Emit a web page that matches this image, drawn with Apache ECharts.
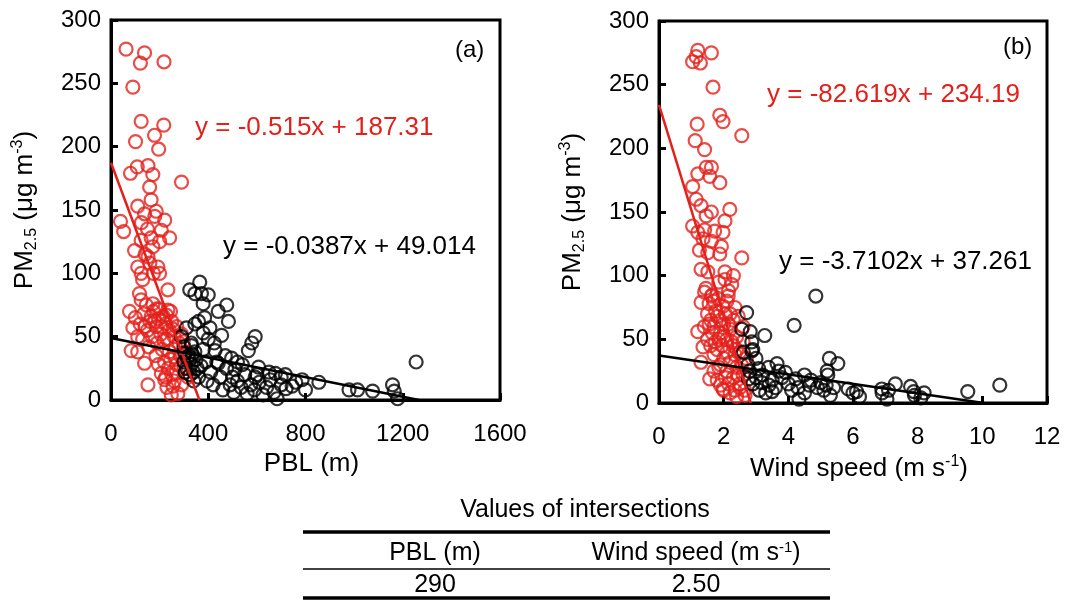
<!DOCTYPE html>
<html>
<head>
<meta charset="utf-8">
<script src="https://cdn.jsdelivr.net/npm/echarts@6/dist/echarts.min.js"></script>
<style>
  html, body { margin: 0; padding: 0; background: #fff; }
  #chart { width: 1081px; height: 601px; }
</style>
</head>
<body>
<div id="chart"></div>
<script>
// (a) PBL (m) vs PM2.5, red = high-pollution group, black = low group
const pblRed = [
  [62, 277], [138, 274], [121, 266], [218, 267], [90, 247], [124, 220], [217, 217],
  [179, 209], [101, 204], [196, 198], [290, 172], [80, 179], [108, 184], [152, 185],
  [172, 178], [159, 168], [165, 158], [39, 141], [52, 133], [110, 153], [138, 147],
  [186, 149], [221, 142], [207, 134], [241, 128], [124, 126], [172, 121], [97, 118],
  [152, 113], [110, 105], [193, 105], [124, 100], [200, 100], [234, 87], [117, 84],
  [124, 79], [172, 76], [76, 70], [234, 71], [90, 57], [83, 39], [110, 38], [138, 29],
  [152, 12], [207, 21], [221, 16], [255, 11], [290, 12], [262, 34], [317, 18], [297, 46],
  [248, 4], [140, 115], [165, 128], [150, 135], [125, 140], [180, 145], [200, 125],
  [175, 100], [160, 108], [130, 95], [100, 65], [120, 60], [135, 68], [150, 55],
  [160, 62], [175, 70], [185, 58], [195, 64], [205, 52], [215, 66], [225, 60], [240, 55],
  [250, 62], [260, 50], [270, 58], [280, 45], [290, 52], [110, 50], [130, 48], [145, 75],
  [170, 50], [190, 45], [200, 72], [230, 48], [245, 70], [265, 42], [155, 42], [185, 35],
  [220, 30], [235, 25], [250, 20], [270, 28], [285, 35], [300, 25], [210, 40], [230, 10],
  [260, 15], [275, 5], [240, 38], [195, 28], [165, 66], [180, 62], [210, 58], [228, 67],
  [255, 56], [140, 58], [188, 72], [218, 47], [245, 32], [225, 18], [268, 22], [305, 38]
];
const pblBlack = [
  [365, 93], [324, 87], [345, 84], [372, 84], [400, 83], [379, 76], [476, 75], [441, 70],
  [483, 62], [345, 60], [407, 57], [310, 57], [455, 51], [379, 53], [593, 50], [579, 45],
  [565, 39], [331, 43], [290, 50], [428, 39], [303, 37], [496, 33], [607, 26], [441, 29],
  [510, 24], [593, 18], [676, 21], [717, 20], [786, 16], [855, 14], [745, 11], [800, 8],
  [979, 8], [1014, 8], [1076, 7], [1158, 12], [1165, 7], [1179, 1], [1255, 30], [683, 1],
  [300, 30], [310, 25], [320, 35], [330, 28], [340, 22], [350, 32], [360, 18], [370, 27],
  [380, 40], [395, 15], [410, 22], [420, 12], [435, 30], [450, 18], [460, 8], [475, 25],
  [490, 12], [505, 6], [520, 15], [535, 10], [550, 20], [560, 5], [575, 12], [590, 8],
  [610, 14], [625, 4], [640, 10], [655, 16], [670, 6], [700, 12], [720, 9], [760, 14],
  [330, 45], [300, 42], [345, 38], [470, 35], [520, 30], [400, 48], [425, 45], [360, 62],
  [385, 65], [340, 15], [500, 18], [540, 28], [600, 20], [650, 22], [700, 18],
  [315, 33], [325, 20], [355, 25], [390, 30], [305, 22], [335, 36]
];

// (b) wind speed (m/s) vs PM2.5
const windRed = [
  [1.04, 268], [1.20, 277], [1.28, 267], [1.15, 272], [1.62, 275], [1.67, 248], [1.88, 226],
  [1.98, 221], [2.56, 210], [1.18, 219], [1.12, 206], [1.41, 199], [1.46, 185], [1.62, 185],
  [1.20, 180], [1.57, 178], [1.88, 173], [1.04, 170], [1.15, 160], [1.30, 155], [2.19, 152],
  [1.62, 150], [1.46, 147], [2.04, 143], [1.04, 139], [1.20, 134], [1.41, 136], [1.72, 135],
  [1.98, 134], [1.36, 129], [1.62, 127], [1.93, 123], [1.25, 120], [1.51, 118], [1.88, 117],
  [2.56, 114], [1.30, 105], [1.51, 103], [2.04, 103], [2.30, 100], [2.04, 97], [2.25, 93],
  [1.41, 87], [1.62, 84], [1.83, 82], [2.14, 84], [1.30, 79], [1.98, 76], [2.35, 75],
  [1.20, 56], [1.36, 44], [1.57, 19], [1.98, 11], [1.30, 32], [2.66, 6],
  [1.5, 70], [1.6, 65], [1.7, 60], [1.8, 68], [1.9, 55], [2.0, 62], [2.1, 50], [2.2, 58],
  [2.3, 45], [2.4, 52], [2.5, 40], [2.6, 48], [1.4, 60], [1.5, 50], [1.6, 45], [1.7, 38],
  [1.8, 42], [1.9, 30], [2.0, 35], [2.1, 25], [2.2, 32], [2.3, 20], [2.4, 28], [2.5, 15],
  [2.6, 22], [2.0, 10], [2.2, 8], [2.4, 5], [2.5, 12], [1.7, 25], [1.8, 18], [1.9, 14],
  [2.1, 40], [2.3, 65], [1.55, 78], [1.75, 72], [2.05, 70], [2.45, 68], [2.6, 60], [2.7, 35],
  [2.65, 10], [1.45, 90], [1.65, 85], [1.85, 95], [2.15, 88],
  [1.55, 62], [1.65, 55], [1.85, 50], [1.95, 45], [2.15, 62], [2.25, 48], [2.35, 38],
  [2.45, 22], [2.55, 30], [1.75, 48], [1.85, 28], [2.05, 20], [2.15, 15], [2.35, 10],
  [2.0, 52], [2.2, 70], [1.7, 80], [1.9, 65], [2.1, 80], [2.4, 42]
];
const windBlack = [
  [2.71, 71], [2.56, 58], [2.82, 56], [3.27, 53], [2.87, 48], [2.61, 40], [2.87, 41],
  [4.85, 84], [4.18, 61], [5.27, 35], [5.53, 31], [3.65, 31], [3.39, 28], [3.08, 27],
  [3.91, 24], [4.23, 19], [5.22, 22], [5.17, 14], [4.65, 14], [5.85, 11], [6.11, 9],
  [6.89, 11], [7.05, 3], [7.31, 15], [7.78, 13], [7.88, 9], [9.55, 9], [10.54, 14],
  [4.33, 3], [3.50, 9], [3.18, 16], [2.77, 19],
  [2.8, 25], [2.9, 15], [3.0, 20], [3.1, 10], [3.2, 22], [3.3, 8], [3.4, 14], [3.5, 18],
  [3.6, 12], [3.8, 20], [4.0, 15], [4.1, 10], [4.3, 12], [4.5, 8], [4.7, 18], [4.9, 12],
  [5.0, 16], [5.1, 10], [5.3, 6], [5.4, 12], [6.0, 8], [6.2, 5], [6.9, 8], [7.1, 10],
  [7.9, 6], [8.1, 4], [8.2, 8], [3.0, 35], [2.75, 30], [2.9, 42], [4.5, 22], [5.2, 25], [3.7, 25]
];

// linear fits: [slope, intercept]
const fitPblRed = [-0.515, 187.31];
const fitPblBlack = [-0.0387, 49.014];
const fitWindRed = [-82.619, 234.19];
const fitWindBlack = [-3.7102, 37.261];

const eqLabels = [
  "y = -0.515x + 187.31",
  "y = -0.0387x + 49.014",
  "y = -82.619x + 234.19",
  "y = -3.7102x + 37.261"
];

const pmTicks = [0, 50, 100, 150, 200, 250, 300];
const pblTicks = [0, 400, 800, 1200, 1600];
const windTicks = [0, 2, 4, 6, 8, 10, 12];

const tableTitle = "Values of intersections";
const tableHeaders = ["PBL (m)", "Wind speed (m s{sup|-1})"];
const tableValues = ["290", "2.50"];

const RED = "#e3201b";
const FONT = "Liberation Sans, Arial, sans-serif";

// line from x = 0 down to where the fit reaches y = 0
function fitLine(fit) {
  const m = fit[0], b = fit[1];
  return [[0, b], [-b / m, 0]];
}

const chart = echarts.init(document.getElementById("chart"));

const richName = {
  n: { fontSize: 26, fontFamily: FONT, color: "#000", lineHeight: 30 },
  sub: { fontSize: 16, fontFamily: FONT, color: "#000", lineHeight: 16, verticalAlign: "bottom" },
  sup: { fontSize: 16, fontFamily: FONT, color: "#000", lineHeight: 16, verticalAlign: "top" },
};

function makeX(gridIndex, ticks, nameText) {
  return {
    type: "value",
    gridIndex: gridIndex,
    min: ticks[0],
    max: ticks[ticks.length - 1],
    interval: ticks[1] - ticks[0],
    name: nameText,
    nameLocation: "middle",
    nameGap: 49,
    nameTextStyle: { rich: richName, padding: [0, 0, 0, 12] },
    axisLine: { show: true, onZero: false, lineStyle: { color: "#000", width: 3 } },
    axisTick: { show: true, inside: true, length: 7, lineStyle: { color: "#000", width: 3 } },
    axisLabel: {
      color: "#000", fontSize: 24, fontFamily: FONT, margin: 22,
      formatter: (v) => String(v),
    },
    splitLine: { show: false },
  };
}

function makeY(gridIndex) {
  return {
    type: "value",
    gridIndex: gridIndex,
    min: pmTicks[0],
    max: pmTicks[pmTicks.length - 1],
    interval: pmTicks[1] - pmTicks[0],
    name: "{n|PM}{sub|2.5}{n| (μg m}{sup|-3}{n|)}",
    nameLocation: "middle",
    nameRotate: 90,
    nameGap: 71,
    nameTextStyle: { rich: richName },
    axisLine: { show: true, onZero: false, lineStyle: { color: "#000", width: 3 } },
    axisTick: { show: true, inside: true, length: 7, lineStyle: { color: "#000", width: 3 } },
    axisLabel: { color: "#000", fontSize: 24, fontFamily: FONT, margin: 10 },
    splitLine: { show: false },
  };
}

function scatter(data, color, idx) {
  return {
    type: "scatter",
    xAxisIndex: idx,
    yAxisIndex: idx,
    data: data,
    symbol: "circle",
    symbolSize: 13,
    itemStyle: { color: "rgba(0,0,0,0)", borderColor: color, borderWidth: 2.2 },
    silent: true,
    z: 2,
  };
}

function fit(fitVals, color, idx) {
  return {
    type: "line",
    xAxisIndex: idx,
    yAxisIndex: idx,
    data: fitLine(fitVals),
    symbol: "none",
    lineStyle: { color: color, width: 2.5 },
    silent: true,
    z: 3,
  };
}

function label(x, y, text, color, size, align) {
  return {
    type: "text",
    x: x,
    y: y,
    style: {
      text: text,
      fill: color,
      font: size + "px " + FONT,
      align: align || "left",
      verticalAlign: "middle",
      rich: {
        sup: { fontSize: 15, fontFamily: FONT, fill: color, lineHeight: 14, verticalAlign: "top" },
      },
    },
  };
}

function hLine(y, w) {
  return {
    type: "line",
    shape: { x1: 303, y1: y, x2: 830, y2: y },
    style: { stroke: "#000", lineWidth: w },
  };
}

const option = {
  animation: false,
  backgroundColor: "#fff",
  grid: [
    { left: 111, top: 20, width: 389, height: 380, show: true, borderColor: "#000", borderWidth: 3, backgroundColor: "transparent", outerBoundsMode: "none" },
    { left: 659, top: 21, width: 388, height: 382, show: true, borderColor: "#000", borderWidth: 3, backgroundColor: "transparent", outerBoundsMode: "none" },
  ],
  xAxis: [
    makeX(0, pblTicks, "{n|PBL (m)}"),
    makeX(1, windTicks, "{n|Wind speed (m s}{sup|-1}{n|)}"),
  ],
  yAxis: [makeY(0), makeY(1)],
  series: [
    scatter(pblRed, RED, 0),
    scatter(pblBlack, "#000", 0),
    fit(fitPblRed, RED, 0),
    fit(fitPblBlack, "#000", 0),
    scatter(windRed, RED, 1),
    scatter(windBlack, "#000", 1),
    fit(fitWindRed, RED, 1),
    fit(fitWindBlack, "#000", 1),
  ],
  graphic: [
    label(455, 50, "(a)", "#000", 24),
    label(1003, 47, "(b)", "#000", 24),
    label(195, 128, eqLabels[0], RED, 26),
    label(223, 247, eqLabels[1], "#000", 26),
    label(767, 95, eqLabels[2], RED, 26),
    label(779, 262, eqLabels[3], "#000", 26),
    label(585, 510, tableTitle, "#000", 25, "center"),
    hLine(532, 3.5),
    label(435, 553, tableHeaders[0], "#000", 25, "center"),
    label(696, 553, tableHeaders[1], "#000", 25, "center"),
    hLine(569, 1.5),
    label(435, 585, tableValues[0], "#000", 25, "center"),
    label(696, 585, tableValues[1], "#000", 25, "center"),
    hLine(598, 3.5),
  ],
};

chart.setOption(option);
</script>
</body>
</html>
